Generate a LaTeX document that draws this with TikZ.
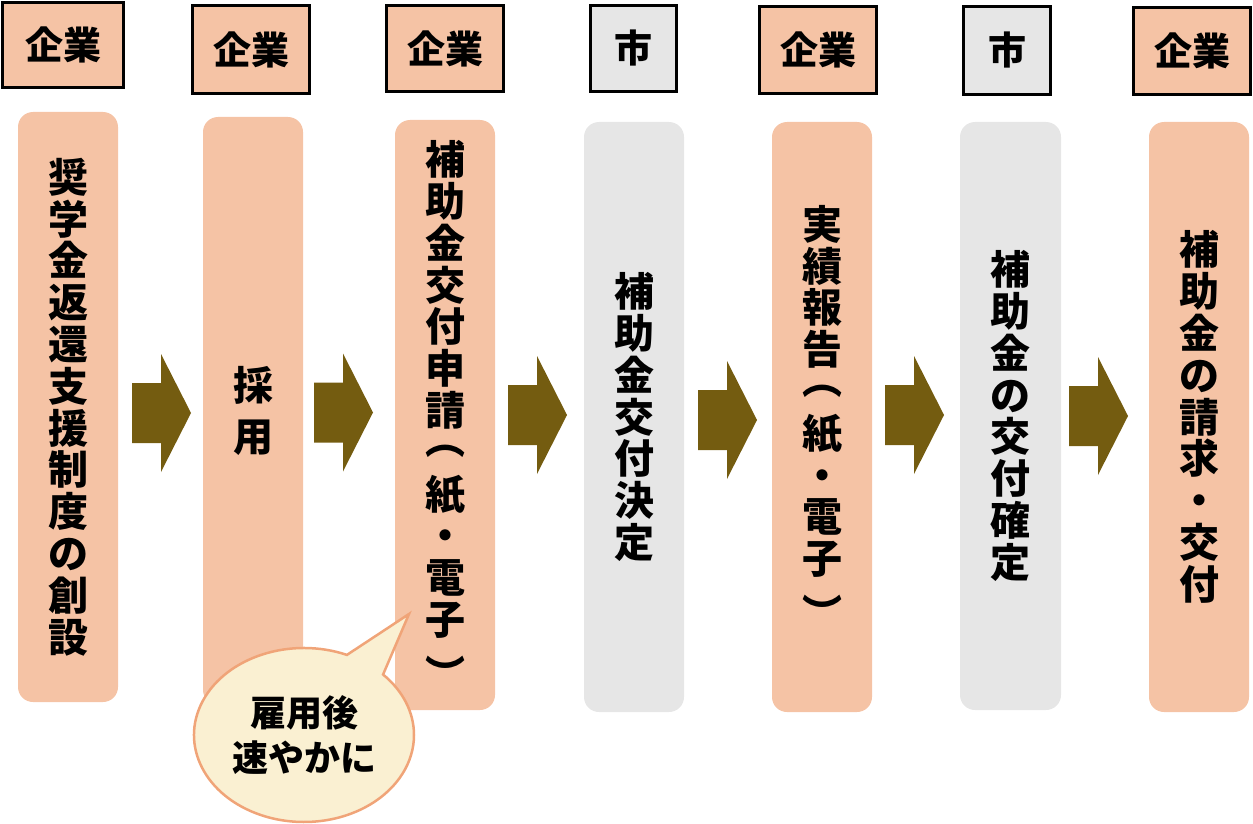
\documentclass[tikz,border=0pt]{standalone}
\usepackage{fontspec}
\usetikzlibrary{shapes.callouts}
\newfontfamily\jpfont{Noto Sans CJK JP}
\newcommand\tatel{\raisebox{0.31em}{︵}}
\newcommand\tater{\raisebox{-0.33em}{︶}}
\definecolor{kigyo}{HTML}{F5C3A5}
\definecolor{shi}{HTML}{E6E6E6}
\definecolor{yajirushi}{HTML}{745C10}
\definecolor{fukidashi}{HTML}{FAF0D2}
\definecolor{fukiwaku}{HTML}{F0A478}
\tikzset{
  actor/.style={draw=black, line width=3pt, inner sep=0pt, font=\jpfont\bfseries\fontsize{38}{38}\selectfont},
  stepbox/.style={rounded corners=15pt, minimum width=100pt, minimum height=590pt, inner sep=0pt, align=center, font=\jpfont\bfseries\fontsize{40}{41.8}\selectfont},
  memo/.style={ellipse callout, fill=fukidashi, draw=fukiwaku, line width=2.5pt, inner sep=0pt, minimum width=220pt, minimum height=174pt, callout pointer arc=23, align=center, font=\jpfont\bfseries\fontsize{36}{45}\selectfont},
}
\begin{document}
\begin{tikzpicture}[x=1pt,y=-1pt]
\useasboundingbox (0,0) rectangle (1253,824);

\foreach \n/\x/\y/\w/\h/\c/\t in {1/63/45/121/85/kigyo/企業, 2/251/49.5/117/88/kigyo/企業,
    3/445/48.5/117/86/kigyo/企業, 4/633.5/48.5/86/86/shi/市, 5/818/50/117/87/kigyo/企業,
    6/1007/50.5/87/88/shi/市, 7/1192/51/117/87/kigyo/企業} {
        \node[actor, fill=\c, minimum width=\w pt, minimum height=\h pt] (h\n) at (\x,\y) {\t};
 }

\node[stepbox, fill=kigyo] (s1) at (68,407) {奨\\学\\金\\返\\還\\支\\援\\制\\度\\の\\創\\設};
\node[stepbox, fill=kigyo, minimum height=588pt] (s2) at (253,411) {採\\[10pt]用};
\node[stepbox, fill=kigyo] (s3) at (445,415) {補\\助\\金\\交\\付\\申\\請\\\tatel\\紙\\・\\電\\子\\\tater};
\node[stepbox, fill=shi] (s4) at (634,417) {補\\助\\金\\交\\付\\決\\定};
\node[stepbox, fill=kigyo] (s5) at (822,417) {実\\績\\報\\告\\\tatel\\紙\\・\\電\\子\\\tater};
\node[stepbox, fill=shi, minimum width=101pt, minimum height=588pt] (s6) at (1010.5,416) {補\\助\\金\\の\\交\\付\\確\\定};
\node[stepbox, fill=kigyo] (s7) at (1199,417) {補\\助\\金\\の\\請\\求\\・\\交\\付};

\foreach \x/\y in {132/413, 314/412.5, 508/415, 698/420, 885/415, 1069/416} {
        \fill[yajirushi] (\x,\y-30) -- ++(29,0) -- ++(0,-29) -- (\x+59,\y) -- (\x+29,\y+59) -- ++(0,-29) -- (\x,\y+30) -- cycle;
 }

\node[memo, callout absolute pointer={(409,614)}] (m1) at (304,735) {雇用後\\速やかに};
\end{tikzpicture}
\end{document}
